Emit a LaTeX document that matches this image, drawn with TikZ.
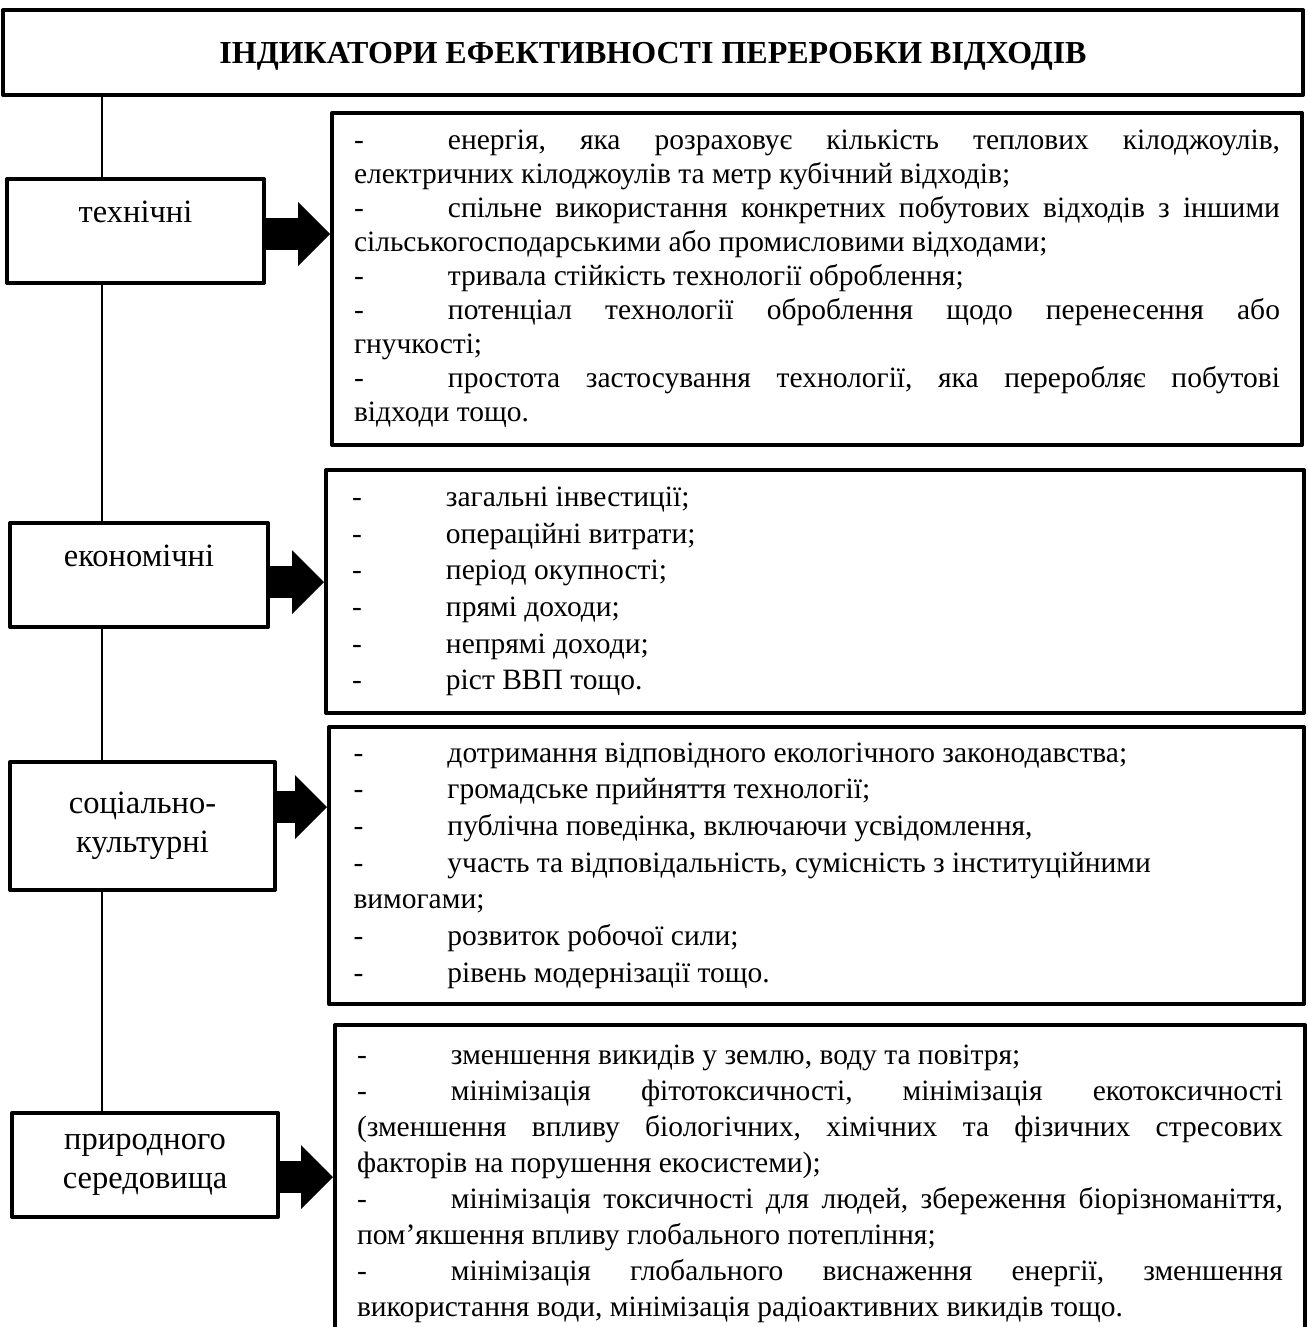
\documentclass[tikz,border=0pt]{standalone}
\usepackage{fontspec}
\setmainfont{Liberation Serif}
\usetikzlibrary{arrows.meta, positioning}

\newcommand{\itm}{\makebox[94pt][l]{-}}
\newcommand{\jst}[1]{{\frenchspacing\spaceskip=0pt\xspaceskip=0pt\makebox[\hsize][s]{#1}}}

\begin{document}
\begin{tikzpicture}[x=1pt,y=-1pt,line join=round,
  titlebox/.style={draw,line width=4pt,fill=white,inner sep=0pt,align=center,text depth=0pt,
    minimum width=1300pt,minimum height=85pt,font=\bfseries\fontsize{32}{38}\selectfont},
  kindbox/.style={draw,line width=4pt,fill=white,inner sep=0pt,align=center,
    minimum width=257pt,minimum height=104pt,font=\fontsize{32.5}{39}\selectfont},
  listbox/.style={draw,line width=4pt,fill=white,anchor=north west,align=justify,
    inner xsep=22pt,inner ysep=0pt,text width=926pt,font=\fontsize{29.5}{36.7}\selectfont},
  spine/.style={line width=1.5pt},
  flow/.style={line width=32pt,-{Triangle[length=32pt,width=64pt,line width=0pt]}}]
  \useasboundingbox (0,0) rectangle (1307,1327);

  \node[titlebox] (ind) at (653,52.5) {ІНДИКАТОРИ ЕФЕКТИВНОСТІ ПЕРЕРОБКИ ВІДХОДІВ};

  \node[kindbox]                                     (c_1) at (135.5,231) {технічні\\\mbox{}};
  \node[kindbox,minimum width=258pt]                 (c_2) at (139,575)   {економічні\\\mbox{}};
  \node[kindbox,minimum width=265pt,minimum height=128pt] (c_3) at (142.5,826) {соціально-\\культурні};
  \node[kindbox,minimum width=266pt]                 (c_4) at (145,1165)  {природного\\середовища};

  \node[listbox,minimum width=970pt,minimum height=332pt,font=\fontsize{29.5}{34}\selectfont] (l_1) at (330,111) {%
    \jst{\itm енергія, яка розраховує кількість теплових кілоджоулів,}\\
    електричних кілоджоулів та метр кубічний відходів;\\
    \jst{\itm спільне використання конкретних побутових відходів з іншими}\\
    сільськогосподарськими або промисловими відходами;\\
    \itm тривала стійкість технології оброблення;\\
    \jst{\itm потенціал технології оброблення щодо перенесення або}\\
    гнучкості;\\
    \jst{\itm простота застосування технології, яка переробляє побутові}\\
    відходи тощо.};
  \node[listbox,minimum width=978pt,minimum height=243pt] (l_2) at (324,468) {%
    \itm загальні інвестиції;\\
    \itm операційні витрати;\\
    \itm період окупності;\\
    \itm прямі доходи;\\
    \itm непрямі доходи;\\
    \itm ріст ВВП тощо.};
  \node[listbox,minimum width=975pt,minimum height=277pt] (l_3) at (327,725) {%
    \itm дотримання відповідного екологічного законодавства;\\
    \itm громадське прийняття технології;\\
    \itm публічна поведінка, включаючи усвідомлення,\\
    \itm участь та відповідальність, сумісність з інституційними\\
    вимогами;\\
    \itm розвиток робочої сили;\\
    \itm рівень модернізації тощо.};
  \node[listbox,minimum width=970pt,minimum height=318pt,font=\fontsize{29.5}{36}\selectfont] (l_4) at (333,1023) {%
    \itm зменшення викидів у землю, воду та повітря;\\
    \jst{\itm мінімізація фітотоксичності, мінімізація екотоксичності}\\
    \jst{(зменшення впливу біологічних, хімічних та фізичних стресових}\\
    факторів на порушення екосистеми);\\
    \jst{\itm мінімізація токсичності для людей, збереження біорізноманіття,}\\
    пом’якшення впливу глобального потепління;\\
    \jst{\itm мінімізація глобального виснаження енергії, зменшення}\\
    використання води, мінімізація радіоактивних викидів тощо.};

  \coordinate (sp) at (102,0);
  \foreach \a/\b in {ind/c_1,c_1/c_2,c_2/c_3,c_3/c_4}
    \draw[spine] (\a.south -| sp) -- (\b.north -| sp);

  \foreach \i/\s in {1/-3,2/-7,3/19,4/-12}
    \draw[flow] ([yshift=\s pt]c_\i.east) -- ([yshift=\s pt]c_\i.east -| l_\i.west);
\end{tikzpicture}
\end{document}
